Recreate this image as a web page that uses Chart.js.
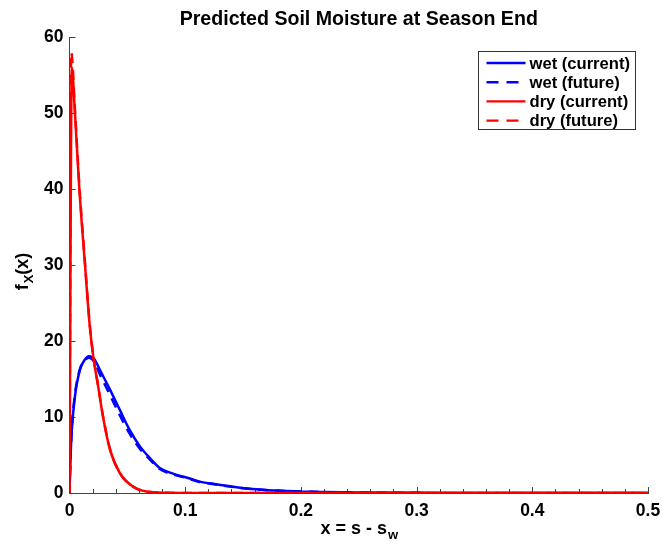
<!DOCTYPE html>
<html><head><meta charset="utf-8">
<script src="https://cdn.jsdelivr.net/npm/chart.js@4.4.1/dist/chart.umd.min.js"></script>
<style>html,body{margin:0;padding:0;background:#fff}canvas{display:block}</style>
</head><body>
<canvas id="c" width="662" height="544"></canvas>
<script>
// ---- data ----
const chartTitle = 'Predicted Soil Moisture at Season End';
const seriesLabels = ['wet (current)', 'wet (future)', 'dry (current)', 'dry (future)'];
const xTickMin = 0, xTickMax = 0.5, xTickStep = 0.02, xLabelStep = 0.1;
const yTickMin = 0, yTickMax = 60, yTickStep = 10;

const wetCurX = [0, 0.001, 0.002, 0.0047, 0.009, 0.013, 0.017, 0.0215, 0.0263, 0.035, 0.0436, 0.052, 0.061, 0.0695, 0.078, 0.0895, 0.104, 0.1125, 0.127, 0.153, 0.182, 0.21, 0.25, 0.3, 0.35, 0.4, 0.5];
const wetCurY = [0, 5, 8.3, 12.7, 16.2, 17.5, 18.0, 17.6, 16.2, 13.6, 10.9, 8.3, 6.1, 4.6, 3.3, 2.55, 1.9, 1.5, 1.15, 0.6, 0.3, 0.15, 0.06, 0.02, 0.01, 0, 0];
const wetFutX = [0, 0.001, 0.002, 0.0047, 0.009, 0.013, 0.017, 0.0215, 0.0263, 0.035, 0.0436, 0.052, 0.061, 0.0695, 0.078, 0.0895, 0.104, 0.1125, 0.127, 0.153, 0.182, 0.21, 0.25, 0.3, 0.35, 0.4, 0.5];
const wetFutY = [0, 5.2, 8.5, 13, 16.3, 17.4, 17.8, 17.2, 15.6, 12.9, 10.2, 7.8, 5.8, 4.4, 3.15, 2.45, 1.85, 1.45, 1.1, 0.58, 0.29, 0.15, 0.06, 0.02, 0.01, 0, 0];
const dryCurX = [0, 0.002, 0.0047, 0.0085, 0.0134, 0.0175, 0.0205, 0.0248, 0.029, 0.035, 0.0436, 0.055, 0.0665, 0.085, 0.1, 0.15, 0.2, 0.3, 0.4, 0.5];
const dryCurY = [0, 56, 50, 40, 30, 22, 18, 14, 10, 5.7, 2.6, 0.83, 0.2, 0.03, 0.01, 0, 0, 0, 0, 0];
const dryFutX = [0, 0.0015, 0.0045, 0.0085, 0.0134, 0.0175, 0.0205, 0.0248, 0.029, 0.035, 0.0436, 0.055, 0.0665, 0.085, 0.1, 0.15, 0.2, 0.3, 0.4, 0.5];
const dryFutY = [0, 58, 51, 40.5, 30.3, 22.2, 18.1, 14.1, 10.1, 5.8, 2.6, 0.84, 0.2, 0.03, 0.01, 0, 0, 0, 0, 0];

// ---- styling ----
const FONT = '"Liberation Sans", Arial, Helvetica, sans-serif';
const BLUE = '#0000ff', RED = '#ff0000', AXIS = '#444444';
const DASH = [10, 7];

function pts(xs, ys) { return xs.map((x, i) => ({ x: x, y: ys[i] })); }

const datasets = [
  { label: seriesLabels[0], data: pts(wetCurX, wetCurY), borderColor: BLUE, borderDash: [], order: 4 },
  { label: seriesLabels[1], data: pts(wetFutX, wetFutY), borderColor: BLUE, borderDash: DASH, order: 3 },
  { label: seriesLabels[2], data: pts(dryCurX, dryCurY), borderColor: RED, borderDash: [], order: 2 },
  { label: seriesLabels[3], data: pts(dryFutX, dryFutY), borderColor: RED, borderDash: DASH, order: 1 }
].map(d => Object.assign(d, {
  borderWidth: 2.5, pointRadius: 0, fill: false, cubicInterpolationMode: 'monotone', backgroundColor: d.borderColor
}));

const isMajor = v => Math.abs(v / xLabelStep - Math.round(v / xLabelStep)) < 1e-6;

// inward tick marks (MATLAB style)
const inwardTicks = {
  id: 'inwardTicks',
  beforeDatasetsDraw(chart) {
    const { ctx, chartArea: a, scales } = chart;
    ctx.save();
    ctx.strokeStyle = AXIS; ctx.lineWidth = 1;
    scales.x.ticks.forEach(t => {
      const px = Math.round(scales.x.getPixelForValue(t.value)) + 0.5;
      const len = isMajor(t.value) ? 6 : 4;
      ctx.beginPath(); ctx.moveTo(px, a.bottom); ctx.lineTo(px, a.bottom - len); ctx.stroke();
    });
    scales.y.ticks.forEach(t => {
      const py = Math.round(scales.y.getPixelForValue(t.value)) + 0.5;
      ctx.beginPath(); ctx.moveTo(a.left, py); ctx.lineTo(a.left + 6, py); ctx.stroke();
    });
    ctx.restore();
  }
};

// title, axis titles with subscripts, boxed legend inside the plot
const annotate = {
  id: 'annotate',
  afterDraw(chart) {
    const { ctx, chartArea: a } = chart;
    const cx = (a.left + a.right) / 2;
    ctx.save();
    ctx.fillStyle = '#000';
    // title centred over the plot area
    ctx.font = 'bold 19.6px ' + FONT;
    ctx.textAlign = 'center'; ctx.textBaseline = 'middle';
    ctx.fillText(chartTitle, cx, 20);
    // x title: x = s - s_w
    const main = 'x = s - s', sub = 'w';
    ctx.font = 'bold 18px ' + FONT;
    const wMain = ctx.measureText(main).width;
    ctx.font = 'bold 13px ' + FONT;
    const wSub = ctx.measureText(sub).width;
    let x0 = cx - (wMain + wSub) / 2;
    const base = 534;
    ctx.textBaseline = 'alphabetic'; ctx.textAlign = 'left';
    ctx.font = 'bold 18px ' + FONT; ctx.fillText(main, x0, base);
    ctx.font = 'bold 13px ' + FONT; ctx.fillText(sub, x0 + wMain + 1, base + 5);
    // y title: f_X(x)
    ctx.save();
    ctx.translate(28, (a.top + a.bottom) / 2 + 7);
    ctx.rotate(-Math.PI / 2);
    ctx.font = 'bold 18px ' + FONT;
    const wf = ctx.measureText('f').width;
    ctx.font = 'bold 13px ' + FONT;
    const wX = ctx.measureText('X').width;
    ctx.font = 'bold 18px ' + FONT;
    const wp = ctx.measureText('(x)').width;
    let sx = -(wf + wX + wp) / 2;
    ctx.fillText('f', sx, 0);
    ctx.font = 'bold 13px ' + FONT; ctx.fillText('X', sx + wf + 1, 5);
    ctx.font = 'bold 18px ' + FONT; ctx.fillText('(x)', sx + wf + wX + 1, 0);
    ctx.restore();
    // legend
    const bw = 157, bh = 78;
    const bx = Math.round(a.right - 13 - bw) + 0.5, by = Math.round(a.top + 14) + 0.5;
    ctx.fillStyle = '#fff'; ctx.fillRect(bx, by, bw, bh);
    ctx.strokeStyle = '#333'; ctx.lineWidth = 1; ctx.setLineDash([]);
    ctx.strokeRect(bx, by, bw, bh);
    ctx.font = 'bold 16.6px ' + FONT; ctx.textBaseline = 'middle';
    chart.data.datasets.forEach((d, i) => {
      const y = by + 11.5 + i * 19.2;
      ctx.strokeStyle = d.borderColor; ctx.lineWidth = 2.4;
      ctx.setLineDash(d.borderDash.length ? [12, 8] : []);
      ctx.beginPath(); ctx.moveTo(bx + 8, y); ctx.lineTo(bx + 47, y); ctx.stroke();
      ctx.setLineDash([]);
      ctx.fillStyle = '#000'; ctx.fillText(d.label, bx + 51, y + 1);
    });
    ctx.restore();
  }
};

new Chart(document.getElementById('c'), {
  type: 'line',
  data: { datasets: datasets },
  options: {
    responsive: false, animation: false, devicePixelRatio: 1,
    layout: { padding: { left: 0, right: 14, top: 37, bottom: 0 } },
    plugins: {
      legend: { display: false },
      tooltip: { enabled: false },
      title: { display: false, text: chartTitle }
    },
    scales: {
      x: {
        type: 'linear', min: xTickMin, max: xTickMax,
        grid: { display: false, drawTicks: false },
        border: { display: true, color: AXIS, width: 1 },
        ticks: {
          stepSize: xTickStep, autoSkip: false, maxRotation: 0, padding: 8, color: '#000',
          font: { family: FONT, size: 17.5, weight: 'bold' },
          callback: v => isMajor(v) ? (Math.abs(v) < 1e-9 ? '0' : v.toFixed(1)) : ''
        },
        afterFit: s => { s.height = 51; s.paddingLeft = 0; s.paddingRight = 0; }
      },
      y: {
        type: 'linear', min: yTickMin, max: yTickMax,
        grid: { display: false, drawTicks: false },
        border: { display: true, color: AXIS, width: 1 },
        ticks: {
          stepSize: yTickStep, padding: 6, color: '#000',
          font: { family: FONT, size: 17.5, weight: 'bold' }
        },
        afterFit: s => { s.width = 69.5; s.paddingTop = 0; s.paddingBottom = 0; }
      }
    }
  },
  plugins: [inwardTicks, annotate]
});
</script>
</body></html>
